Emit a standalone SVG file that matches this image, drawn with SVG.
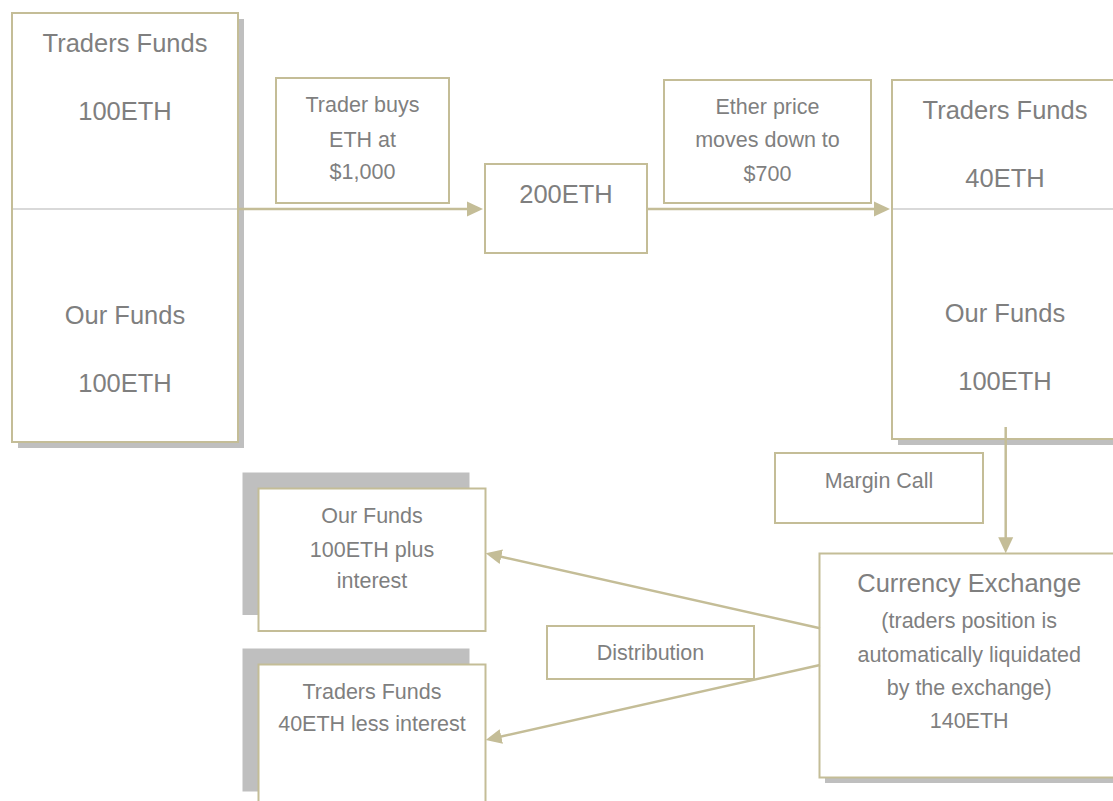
<svg xmlns="http://www.w3.org/2000/svg" width="1113" height="801" viewBox="0 0 1113 801">
<style>
.box{fill:#ffffff;stroke:#c4bd97;stroke-width:2}
.shadow{fill:#bfbfbf}
.div{stroke:#d9d9d9;stroke-width:2}
.t{font-family:'Liberation Sans',Arial,sans-serif;fill:#7f7f7f;text-anchor:middle}
.lg{font-size:25.5px}
.sm{font-size:21.5px}
.conn{stroke:#c4bd97;stroke-width:2.5;fill:none;marker-end:url(#ah)}
</style>
<defs>
<marker id="ah" markerUnits="userSpaceOnUse" markerWidth="16" markerHeight="16" viewBox="0 0 16 16" refX="8" refY="8" orient="auto">
<path d="M0,0.5 L16,8 L0,15.5 z" fill="#c4bd97"/>
</marker>
</defs>
<rect width="1113" height="801" fill="#ffffff"/>

<g id="start-funds">
<rect class="shadow" x="18" y="19" width="226" height="429"/>
<rect class="box" x="12" y="13" width="226" height="429"/>
<line class="div" x1="13" y1="209" x2="237" y2="209"/>
<text class="t lg" x="125" y="52">Traders Funds</text>
<text class="t lg" x="125" y="120">100ETH</text>
<text class="t lg" x="125" y="323.5">Our Funds</text>
<text class="t lg" x="125" y="391.5">100ETH</text>
</g>

<g id="label-buy">
<rect class="box" x="276" y="78" width="173" height="125"/>
<text class="t sm" x="362.5" y="111.7">Trader buys</text>
<text class="t sm" x="362.5" y="146.7">ETH at</text>
<text class="t sm" x="362.5" y="179">$1,000</text>
</g>

<g id="position">
<rect class="box" x="485" y="164" width="162" height="89"/>
<text class="t lg" x="566" y="202.7">200ETH</text>
</g>

<g id="label-price">
<rect class="box" x="664" y="80" width="207" height="123"/>
<text class="t sm" x="767.5" y="114.3">Ether price</text>
<text class="t sm" x="767.5" y="147.3">moves down to</text>
<text class="t sm" x="767.5" y="180.7">$700</text>
</g>

<g id="after-funds">
<rect class="shadow" x="898" y="86" width="226" height="359"/>
<rect class="box" x="892" y="80" width="226" height="359"/>
<line class="div" x1="893" y1="209" x2="1113" y2="209"/>
<text class="t lg" x="1005" y="119.3">Traders Funds</text>
<text class="t lg" x="1005" y="187.3">40ETH</text>
<text class="t lg" x="1005" y="321.7">Our Funds</text>
<text class="t lg" x="1005" y="390">100ETH</text>
</g>

<g id="label-margin">
<rect class="box" x="775" y="453" width="208" height="70"/>
<text class="t sm" x="879" y="488.3">Margin Call</text>
</g>

<g id="exchange">
<rect class="shadow" x="825" y="559" width="300" height="224"/>
<rect class="box" x="819.5" y="553.5" width="300" height="224"/>
<text class="t lg" x="969.2" y="591.7">Currency Exchange</text>
<text class="t sm" x="969.2" y="628.3">(traders position is</text>
<text class="t sm" x="969.2" y="661.7">automatically liquidated</text>
<text class="t sm" x="969.2" y="695">by the exchange)</text>
<text class="t sm" x="969.2" y="728.3">140ETH</text>
</g>

<g id="label-distribution">
<rect class="box" x="547" y="626" width="207" height="53"/>
<text class="t sm" x="650.5" y="660">Distribution</text>
</g>

<g id="our-funds-out">
<rect class="shadow" x="242.5" y="472.5" width="227" height="142.5"/>
<rect class="box" x="258.5" y="488.5" width="227" height="142.5"/>
<text class="t sm" x="372" y="523.3">Our Funds</text>
<text class="t sm" x="372" y="556.7">100ETH plus</text>
<text class="t sm" x="372" y="588.3">interest</text>
</g>

<g id="traders-funds-out">
<rect class="shadow" x="242.5" y="648.5" width="227" height="143"/>
<rect class="box" x="258.5" y="664.5" width="227" height="143"/>
<text class="t sm" x="372" y="699">Traders Funds</text>
<text class="t sm" x="372" y="731">40ETH less interest</text>
</g>

<g id="connectors">
<line class="conn" x1="239" y1="209" x2="475" y2="209"/>
<line class="conn" x1="647" y1="209" x2="882" y2="209"/>
<line class="conn" x1="1005.7" y1="427" x2="1005.7" y2="545.3"/>
<line class="conn" x1="820" y1="628.3" x2="493.5" y2="555.05"/>
<line class="conn" x1="820" y1="665" x2="493.5" y2="738.25"/>
</g>
</svg>
